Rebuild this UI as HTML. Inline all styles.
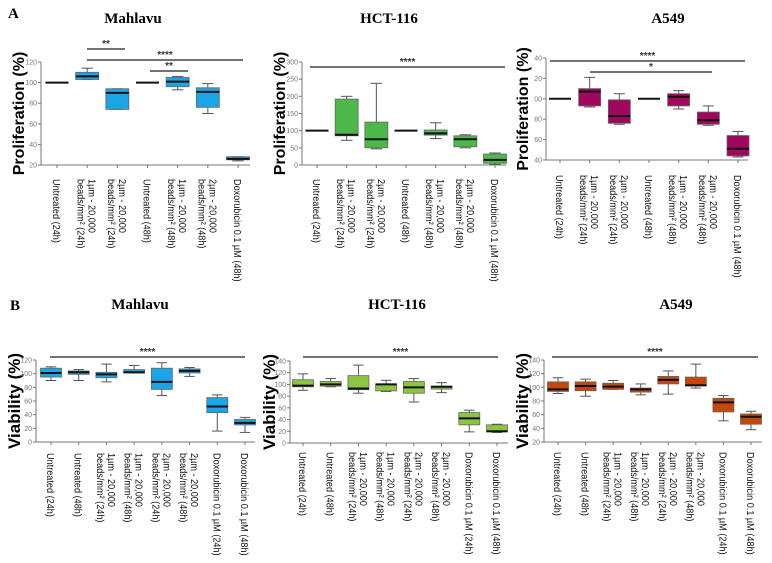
<!DOCTYPE html>
<html><head><meta charset="utf-8"><style>
body{margin:0;background:#fff;}
svg{display:block;font-family:"Liberation Sans",sans-serif;}
.t{font-family:"Liberation Serif",serif;font-weight:bold;font-size:15px;}
</style></head><body>
<svg id="fig" width="772" height="563" viewBox="0 0 772 563" xmlns="http://www.w3.org/2000/svg">
<text class="t" x="8" y="18" font-size="16">A</text>
<text class="t" x="10" y="310" font-size="16">B</text>
</svg>
<script>
const labelsA = [["Untreated (24h)"],["1µm - 20,000","beads/mm² (24h)"],["2µm - 20,000","beads/mm² (24h)"],["Untreated (48h)"],["1µm - 20,000","beads/mm² (48h)"],["2µm - 20,000","beads/mm² (48h)"],["Doxorubicin 0.1 µM (48h)"]];
const labelsB = [["Untreated (24h)"],["Untreated (48h)"],["1µm - 20,000","beads/mm² (24h)"],["1µm - 20,000","beads/mm² (48h)"],["2µm - 20,000","beads/mm² (24h)"],["2µm - 20,000","beads/mm² (48h)"],["Doxorubicin 0.1 µM (24h)"],["Doxorubicin 0.1 µM (48h)"]];
// [min, q1, median, q3, max]
const mahlavuA = [[100,100,100,100,100],[103,103,106,110,114],[74,74,90,94,94],[100,100,100,100,100],[93,96,101,105,106],[70,76,91,95,99],[24,25,26,28,28]];
const hctA = [[100,100,100,100,100],[72,85,88,192,200],[47,50,75,125,238],[100,100,100,100,100],[77,87,92,102,123],[50,53,75,85,88],[2,5,15,32,35]];
const a549A = [[100,100,100,100,100],[92,93,107,110,121],[75,76,83,99,105],[100,100,100,100,100],[90,93,102,105,108],[74,75,79,87,93],[43,44,51,64,68]];
const mahlavuB = [[90,95,101,108,110],[90,99,102,104,106],[88,94,99,102,114],[101,101,102,106,112],[68,77,88,108,116],[96,101,104,107,109],[16,43,52,65,69],[14,25,28,33,36]];
const hctB = [[90,96,98,108,118],[96,97,100,105,110],[85,91,93,115,133],[88,89,100,101,107],[70,85,95,105,110],[86,92,96,97,103],[19,31,42,52,56],[18,19,20,31,32]];
const a549B = [[91,94,97,108,114],[87,95,102,108,112],[97,97,101,106,110],[89,93,97,99,105],[90,105,111,116,124],[99,102,103,115,134],[51,64,78,84,88],[38,46,57,61,65]];
const ticksMahA = ["20","40","60","80","100","120"], tickValsMahA=[20,40,60,80,100,120];
const ticksHctA = ["0","50","100","150","200","250","300"], tickValsHctA=[0,50,100,150,200,250,300];
const ticksA549A = ["40","60","80","00","20","40"], tickValsA549A=[40,60,80,100,120,140];
const ticksMahB = ["0","20","40","60","80","100","120"], tickValsMahB=[0,20,40,60,80,100,120];
const ticksHctB = ["0","20","40","60","80","100","120","140"], tickValsHctB=[0,20,40,60,80,100,120,140];
const ticksA549B = ["20","40","60","80","100","120","140"], tickValsA549B=[20,40,60,80,100,120,140];

const NS="http://www.w3.org/2000/svg";
const svg=document.getElementById('fig');
function mk(tag,attrs,parent){const e=document.createElementNS(NS,tag);for(const k in attrs)e.setAttribute(k,attrs[k]);(parent||svg).appendChild(e);return e;}

function panel(o){
  const g=mk('g',{});
  
  
  const y=v=>o.y0+(v-o.v0)*(o.y1-o.y0)/(o.v1-o.v0);
  const n=o.data.length;
  const x=i=>o.cx0+i*(o.cx1-o.cx0)/(n-1);
  const t=mk('text',{x:o.titleX,y:o.titleY,'class':'t','text-anchor':'middle'},g);
  t.textContent=o.title;
  
  
  const yl=mk('text',{transform:`translate(${o.ylx},${(o.y0+o.y1)/2}) rotate(-90)`,'text-anchor':'middle','font-weight':'bold','font-size':o.ylSize},g);
  yl.textContent=o.ylabel;
  
  
  const ax=mk('line',{x1:o.ax,x2:o.ax,y1:y(o.v1),y2:y(o.v0),stroke:'#777','stroke-width':1},g);
  
  
  const xa=mk('line',{x1:o.ax,x2:o.axEnd,y1:y(o.v0),y2:y(o.v0),stroke:'#777','stroke-width':1},g);
  
  
  o.tickVals.forEach((v,i)=>{
    mk('line',{x1:o.ax-3,x2:o.ax,y1:y(v),y2:y(v),stroke:'#777'},g);
    const tl=mk('text',{x:o.ax-4,y:y(v)+2.5,'text-anchor':'end','font-size':7,fill:'#777'},g);
    tl.textContent=o.ticks[i];
    
    
  });
  o.data.forEach((d,i)=>{
    const cx=x(i), w=o.bw;
    mk('line',{x1:cx,x2:cx,y1:y(o.v0),y2:y(o.v0)+3,stroke:'#777'},g);
    const bg=mk('g',{},g);
    
    
    if(d[0]===d[4]){
      mk('line',{x1:cx-w/2,x2:cx+w/2,y1:y(d[2]),y2:y(d[2]),stroke:'#111','stroke-width':2},bg);
    } else {
      mk('line',{x1:cx,x2:cx,y1:y(d[4]),y2:y(d[3]),stroke:'#555'},bg);
      mk('line',{x1:cx,x2:cx,y1:y(d[1]),y2:y(d[0]),stroke:'#555'},bg);
      mk('line',{x1:cx-w/4,x2:cx+w/4,y1:y(d[4]),y2:y(d[4]),stroke:'#555'},bg);
      mk('line',{x1:cx-w/4,x2:cx+w/4,y1:y(d[0]),y2:y(d[0]),stroke:'#555'},bg);
      mk('rect',{x:cx-w/2,y:y(d[3]),width:w,height:Math.max(1,y(d[1])-y(d[3])),fill:o.color,stroke:'#666','stroke-width':0.8},bg);
      mk('line',{x1:cx-w/2,x2:cx+w/2,y1:y(d[2]),y2:y(d[2]),stroke:'#111','stroke-width':2},bg);
    }
    const L=o.labels[i];
    const lt=mk('text',{'font-size':10.5,fill:'#111'},g);
    
    
    if(L.length===1){
      lt.setAttribute('transform',`translate(${cx-4},${o.labY}) rotate(90) scale(0.87,1)`);
      lt.textContent=L[0];
    } else {
      lt.setAttribute('transform',`translate(${cx+1.5},${o.labY}) rotate(90) scale(0.87,1)`);
      const s1=mk('tspan',{x:0,dy:0},lt); s1.textContent=L[0];
      const s2=mk('tspan',{x:0,dy:11},lt); s2.textContent=L[1];
    }
  });
  o.sig.forEach(s=>{
    const sg=mk('g',{},g);
    
    
    mk('line',{x1:s[0],x2:s[1],y1:s[2],y2:s[2],stroke:'#444','stroke-width':1.5},sg);
    const st=mk('text',{x:(s[0]+s[1])/2,y:s[2]-2,'text-anchor':'middle','font-size':10,'font-weight':'bold',fill:'#333'},sg);
    st.textContent=s[3];
  });
}

panel({name:'mahlavu-proliferation',title:'Mahlavu',titleX:133,titleY:23,ylabel:'Proliferation (%)',ylx:24,ylSize:16,
  data:mahlavuA,labels:labelsA,color:'#1aa6e6',v0:20,v1:120,y0:165,y1:62,ax:41,axEnd:250,cx0:57,cx1:238,bw:23,
  ticks:ticksMahA,tickVals:tickValsMahA,labY:179,sig:[[87,125,49,'**'],[87,243,60,'****'],[150,188,71,'**']]});
panel({name:'hct116-proliferation',title:'HCT-116',titleX:389,titleY:23,ylabel:'Proliferation (%)',ylx:285,ylSize:16,
  data:hctA,labels:labelsA,color:'#4cb84a',v0:0,v1:300,y0:165,y1:62,ax:302,axEnd:506,cx0:317,cx1:495,bw:23,
  ticks:ticksHctA,tickVals:tickValsHctA,labY:179,sig:[[310,505,67,'****']]});
panel({name:'a549-proliferation',title:'A549',titleX:668,titleY:23,ylabel:'Proliferation (%)',ylx:528,ylSize:16,
  data:a549A,labels:labelsA,color:'#a0075e',v0:40,v1:140,y0:160,y1:58,ax:546,axEnd:748,cx0:560,cx1:738,bw:22,
  ticks:ticksA549A,tickVals:tickValsA549A,labY:175,sig:[[550,745,61,'****'],[590,712,72,'*']]});
panel({name:'mahlavu-viability',title:'Mahlavu',titleX:140,titleY:309,ylabel:'Viability (%)',ylx:20,ylSize:17,
  data:mahlavuB,labels:labelsB,color:'#1aa6e6',v0:0,v1:120,y0:442,y1:360,ax:36,axEnd:255,cx0:51,cx1:245,bw:21,
  ticks:ticksMahB,tickVals:tickValsMahB,labY:453,sig:[[50,245,357,'****']]});
panel({name:'hct116-viability',title:'HCT-116',titleX:397,titleY:309,ylabel:'Viability (%)',ylx:275,ylSize:17,
  data:hctB,labels:labelsB,color:'#8cc63f',v0:0,v1:140,y0:443,y1:361,ax:290,axEnd:508,cx0:303,cx1:497,bw:21,
  ticks:ticksHctB,tickVals:tickValsHctB,labY:452,sig:[[303,498,357,'****']]});
panel({name:'a549-viability',title:'A549',titleX:676,titleY:309,ylabel:'Viability (%)',ylx:528,ylSize:17,
  data:a549B,labels:labelsB,color:'#c4470c',v0:20,v1:140,y0:442,y1:360,ax:544,axEnd:762,cx0:558,cx1:751,bw:21,
  ticks:ticksA549B,tickVals:tickValsA549B,labY:452,sig:[[552,758,357,'****']]});
</script>
</body></html>
